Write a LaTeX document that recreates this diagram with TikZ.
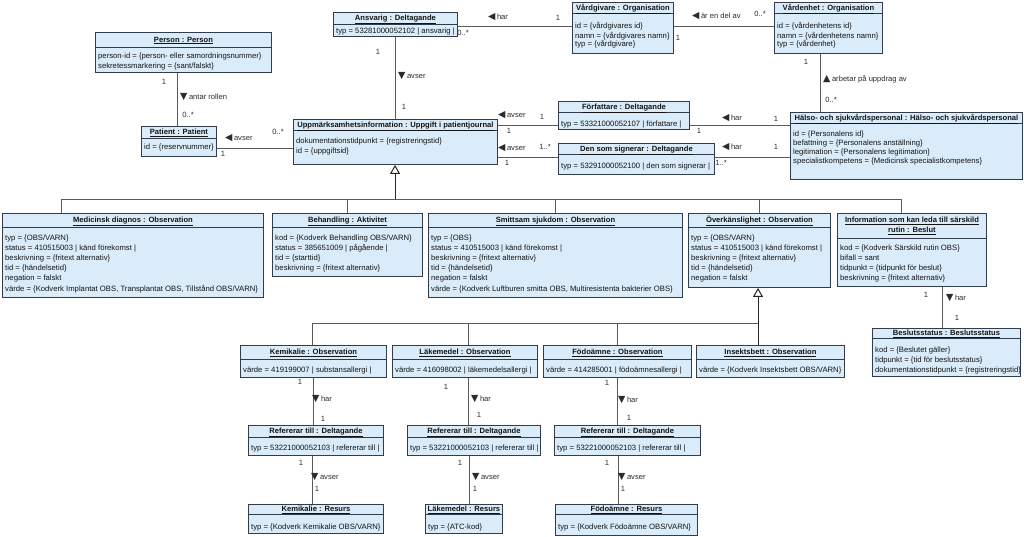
\documentclass[tikz,border=0pt]{standalone}
\usepackage{fontspec}
\setmainfont{Liberation Sans}
\newfontfamily\symfont{DejaVu Sans}
\usetikzlibrary{calc,arrows.meta}
\definecolor{boxfill}{RGB}{218,236,250}
\definecolor{boxdraw}{RGB}{50,60,75}
\definecolor{linec}{RGB}{90,90,90}
\definecolor{txt}{RGB}{20,20,20}
\newcommand{\arrL}{{\symfont\fontsize{9.5}{9}\selectfont ◀}\hspace{1.5pt}}
\newcommand{\arrD}{{\symfont\fontsize{9.5}{9}\selectfont ▼}\hspace{1.5pt}}
\newcommand{\arrU}{{\symfont\fontsize{9.5}{9}\selectfont ▲}\hspace{1.5pt}}
\def\bodyls{10}
\def\bodyoff{10}
\newcommand{\umlbox}[8]{%
 \node[box, minimum width=#4pt, minimum height=#5pt, anchor=north west] (#1) at (#2,#3) {};
 \draw[boxline] ($(#1.north west)+(0,#6)$) -- ($(#1.north east)+(0,#6)$);
 \node[titletext, anchor=base] (#1-t) at ($(#1.north)+(0,{#6/2+2.6})$) {\underline{#7}};
 \node[bodytext, font=\fontsize{7.7}{\bodyls}\selectfont, anchor=north west] (#1-b) at ($(#1.north west)+(3,{#6+\bodyoff+2.8-0.7*\bodyls})$) {\strut #8};
}
\tikzset{
 box/.style={rectangle, draw=boxdraw, fill=boxfill, line width=0.9pt, inner sep=0pt},
 boxline/.style={draw=boxdraw, line width=0.9pt},
 titletext/.style={font=\fontsize{7.6}{10.5}\selectfont\bfseries, text=txt, inner sep=0pt},
 bodytext/.style={text=txt, inner sep=0pt, align=left},
 lbl/.style={font=\fontsize{7.6}{9}\selectfont, text=txt!90!white, inner sep=0pt},
 conn/.style={draw=linec, line width=0.9pt},
 genline/.style={draw=black!85, line width=1pt, -{Triangle[open, length=9pt, width=10pt, line width=1pt]}},
}
\begin{document}
\begin{tikzpicture}[x=1pt, y=-1pt]
\useasboundingbox[fill=white] (0,0) rectangle (1024,536);

% ---------- boxes ----------
\def\bodyls{10.5}\def\bodyoff{8}
\umlbox{person}{95}{32}{176}{40}{15}{Person : Person}{person-id = \{person- eller samordningsnummer\}\\sekretessmarkering = \{sant/falskt\}}
\def\bodyls{10}\def\bodyoff{8}
\umlbox{patient}{141}{126}{75}{30}{12}{Patient : Patient}{id = \{reservnummer\}}
\def\bodyoff{6}
\umlbox{ansvarig}{333}{12}{124}{24}{12}{Ansvarig : Deltagande}{typ = 53281000052102 | ansvarig |}
\def\bodyls{8.2}\def\bodyoff{12}
\umlbox{vardgivare}{572}{2}{101}{51}{11}{Vårdgivare : Organisation}{id = \{vårdgivares id\}\\namn = \{vårdgivares namn\}\\typ = \{vårdgivare\}}
\umlbox{vardenhet}{774}{2}{108}{51}{11}{Vårdenhet : Organisation}{id = \{vårdenhetens id\}\\namn = \{vårdenhetens namn\}\\typ = \{vårdenhet\}}
\def\bodyls{10.5}\def\bodyoff{10}
\umlbox{uppm}{293}{119}{204}{45}{11}{Uppmärksamhetsinformation : Uppgift i patientjournal}{dokumentationstidpunkt = \{registreringstid\}\\id = \{uppgiftsid\}}
\def\bodyls{10}\def\bodyoff{11}
\umlbox{forf}{558}{101}{131}{28}{11}{Författare : Deltagande}{typ = 53321000052107 | författare |}
\umlbox{signerar}{558}{143}{156}{31}{11}{Den som signerar : Deltagande}{typ = 53291000052100 | den som signerar |}
\def\bodyls{9.2}\def\bodyoff{10}
\umlbox{halso}{790}{112}{232}{67}{11}{Hälso- och sjukvårdspersonal : Hälso- och sjukvårdspersonal}{id = \{Personalens id\}\\befattning = \{Personalens anställning\}\\legitimation = \{Personalens legitimation\}\\specialistkompetens = \{Medicinsk specialistkompetens\}}
\def\bodyls{10.2}\def\bodyoff{10}
\umlbox{medicinsk}{2}{213}{261}{84}{14}{Medicinsk diagnos : Observation}{typ = \{OBS/VARN\}\\status = 410515003 | känd förekomst |\\beskrivning = \{fritext alternativ\}\\tid = \{händelsetid\}\\negation = falskt\\värde = \{Kodverk Implantat OBS, Transplantat OBS, Tillstånd OBS/VARN\}}
\umlbox{behandling}{272}{213}{150}{63}{14}{Behandling : Aktivitet}{kod = \{Kodverk Behandling OBS/VARN\}\\status = 385651009 | pågående |\\tid = \{starttid\}\\beskrivning = \{fritext alternativ\}}
\umlbox{smittsam}{428}{213}{254}{84}{14}{Smittsam sjukdom : Observation}{typ = \{OBS\}\\status = 410515003 | känd förekomst |\\beskrivning = \{fritext alternativ\}\\tid = \{händelsetid\}\\negation = falskt\\värde = \{Kodverk Luftburen smitta OBS, Multiresistenta bakterier OBS\}}
\umlbox{overk}{688}{213}{142}{74}{14}{Överkänslighet : Observation}{typ = \{OBS/VARN\}\\status = 410515003 | känd förekomst |\\beskrivning = \{fritext alternativ\}\\tid = \{händelsetid\}\\negation = falskt}
% information box (two-line title)
\node[box, minimum width=149pt, minimum height=73pt, anchor=north west] (info) at (837,213) {};
\draw[boxline] ($(info.north west)+(0,25)$) -- ($(info.north east)+(0,25)$);
\node[titletext, align=center] (info-t) at ($(info.north)+(0,12.8)$) {\underline{Information som kan leda till särskild}\\\underline{rutin : Beslut}};
\node[bodytext, font=\fontsize{7.7}{10}\selectfont, anchor=north west] (info-b) at ($(info.north west)+(3,{25+9+2.8-7})$) {\strut kod = \{Kodverk Särskild rutin OBS\}\\bifall = sant\\tidpunkt = \{tidpunkt för beslut\}\\beskrivning = \{fritext alternativ\}};
\def\bodyls{10}\def\bodyoff{11}
\umlbox{beslut}{872}{328}{148}{48}{10}{Beslutsstatus : Beslutsstatus}{kod = \{Beslutet gäller\}\\tidpunkt = \{tid för beslutsstatus\}\\dokumentationstidpunkt = \{registreringstid\}}
\def\bodyoff{10}
\umlbox{kemobs}{240}{345}{146}{32}{14}{Kemikalie : Observation}{värde = 419199007 | substansallergi |}
\umlbox{lakobs}{392}{345}{145}{32}{14}{Läkemedel : Observation}{värde = 416098002 | läkemedelsallergi |}
\umlbox{fodobs}{543}{345}{148}{32}{14}{Födoämne : Observation}{värde = 414285001 | födoämnesallergi |}
\umlbox{insobs}{696}{345}{148}{32}{14}{Insektsbett : Observation}{värde = \{Kodverk Insektsbett OBS/VARN\}}
\def\bodyoff{10.5}
\umlbox{refkem}{248}{425}{135}{30}{12}{Refererar till : Deltagande}{typ = 53221000052103 | refererar till |}
\umlbox{reflak}{407}{425}{133}{30}{12}{Refererar till : Deltagande}{typ = 53221000052103 | refererar till |}
\umlbox{reffod}{554}{425}{146}{30}{12}{Refererar till : Deltagande}{typ = 53221000052103 | refererar till |}
\def\bodyoff{12}
\umlbox{reskem}{248}{504}{135}{29}{10}{Kemikalie : Resurs}{typ = \{Kodverk Kemikalie OBS/VARN\}}
\umlbox{reslak}{425}{504}{77}{29}{10}{Läkemedel : Resurs}{typ = \{ATC-kod\}}
\umlbox{resfod}{555}{504}{142}{31}{10}{Födoämne : Resurs}{typ = \{Kodverk Födoämne OBS/VARN\}}

% ---------- associations ----------
\draw[conn] ([xshift=-2pt]patient.north) -- ([xshift=-2pt]patient.north |- person.south);
\draw[conn] ([yshift=-7pt]patient.east) -- ([yshift=-7pt]patient.east -| uppm.west);
\draw[conn] (ansvarig.south) -- (ansvarig.south |- uppm.north);
\draw[conn] ([yshift=-2pt]ansvarig.east) -- ([yshift=-2pt]ansvarig.east -| vardgivare.west);
\draw[conn] ([yshift=1.5pt]vardgivare.east) -- ([yshift=1.5pt]vardgivare.east -| vardenhet.west);
\draw[conn] ([xshift=-8pt]vardenhet.south) -- ([xshift=-8pt]vardenhet.south |- halso.north);
\draw[conn] ([yshift=-10pt]forf.west) -- ([yshift=-10pt]forf.west -| uppm.east);
\draw[conn] ([yshift=1.5pt]signerar.west) -- ([yshift=1.5pt]signerar.west -| uppm.east);
\draw[conn] ([yshift=-10pt]forf.east) -- ([yshift=-10pt]forf.east -| halso.west);
\draw[conn] ([yshift=1.5pt]signerar.east) -- ([yshift=1.5pt]signerar.east -| halso.west);
\draw[conn] (kemobs.south) -- (kemobs.south |- refkem.north);
\draw[conn] ([xshift=-4pt]refkem.south) -- ([xshift=-4pt]refkem.south |- reskem.north);
\draw[conn] ([xshift=3pt]lakobs.south) -- ([xshift=3pt]lakobs.south |- reflak.north);
\draw[conn] ([xshift=-5pt]reflak.south) -- ([xshift=-5pt]reflak.south |- reslak.north);
\draw[conn] (fodobs.south) -- (fodobs.south |- reffod.north);
\draw[conn] ([xshift=-9pt]reffod.south) -- ([xshift=-9pt]reffod.south |- resfod.north);
\draw[conn] ([xshift=-4pt]beslut.north) -- ([xshift=-4pt]beslut.north |- info.south);

% ---------- generalizations ----------
\coordinate (g1) at (395,199);
\coordinate (g1L) at (61,199);
\coordinate (g1R) at (901,199);
\draw[conn] (medicinsk.north -| g1L) -- (g1L) -- (g1R) -- (g1R |- info.north);
\draw[conn] (behandling.north) -- (behandling.north |- g1);
\draw[conn] (smittsam.north) -- (smittsam.north |- g1);
\draw[conn] (overk.north) -- (overk.north |- g1);
\draw[genline] (g1) -- (g1 |- uppm.south);
\coordinate (g2) at (758,323);
\coordinate (g2L) at (312,323);
\draw[conn] (kemobs.north -| g2L) -- (g2L) -- (g2);
\draw[conn] ([xshift=3pt]lakobs.north) -- ([xshift=3pt]lakobs.north |- g2);
\draw[conn] (fodobs.north) -- (fodobs.north |- g2);
\draw[genline] (insobs.north -| g2) -- (g2 |- overk.south);

% ---------- labels ----------
\node[lbl] (l1) at (164,82) {1};
\node[lbl, anchor=west] (l2) at (180,97) {\arrD antar rollen};
\node[lbl] (l3) at (188,115) {0..*};
\node[lbl, anchor=west] (l4) at (225,138) {\arrL avser};
\node[lbl] (l5) at (278,132) {0..*};
\node[lbl] (l6) at (223,154) {1};
\node[lbl] (l7) at (378,52) {1};
\node[lbl, anchor=west] (l8) at (398,76) {\arrD avser};
\node[lbl] (l9) at (404,107) {1};
\node[lbl, anchor=west] (l10) at (488,17) {\arrL har};
\node[lbl] (l11) at (558,18) {1};
\node[lbl] (l12) at (463,33) {0..*};
\node[lbl, anchor=west] (l13) at (692,16) {\arrL är en del av};
\node[lbl] (l14) at (760,14) {0..*};
\node[lbl] (l15) at (678,38) {1};
\node[lbl] (l16) at (806,62) {1};
\node[lbl, anchor=west] (l17) at (823,79) {\arrU arbetar på uppdrag av};
\node[lbl] (l18) at (831,100) {0..*};
\node[lbl, anchor=west] (l19) at (498,115) {\arrL avser};
\node[lbl] (l20) at (542,117) {1};
\node[lbl] (l21) at (509,131) {1};
\node[lbl, anchor=west] (l22) at (498,148) {\arrL avser};
\node[lbl] (l23) at (545,147) {1..*};
\node[lbl] (l24) at (507,163) {1};
\node[lbl, anchor=west] (l25) at (722,118) {\arrL har};
\node[lbl] (l26) at (776,119) {1};
\node[lbl] (l27) at (699,131) {1};
\node[lbl, anchor=west] (l28) at (722,147) {\arrL har};
\node[lbl] (l29) at (776,147) {1};
\node[lbl] (l30) at (721,163) {1..*};
\node[lbl] (l31) at (300,382) {1};
\node[lbl, anchor=west] (l32) at (312,399) {\arrD har};
\node[lbl] (l33) at (323,419) {1};
\node[lbl] (l34) at (301,463) {1};
\node[lbl, anchor=west] (l35) at (311,477) {\arrD avser};
\node[lbl] (l36) at (317,489) {1};
\node[lbl] (l37) at (446,387) {1};
\node[lbl, anchor=west] (l38) at (471,399) {\arrD har};
\node[lbl] (l39) at (479,415) {1};
\node[lbl] (l40) at (460,463) {1};
\node[lbl, anchor=west] (l41) at (472,477) {\arrD avser};
\node[lbl] (l42) at (475,489) {1};
\node[lbl] (l43) at (607,383) {1};
\node[lbl, anchor=west] (l44) at (618,400) {\arrD har};
\node[lbl] (l45) at (629,418) {1};
\node[lbl] (l46) at (607,463) {1};
\node[lbl, anchor=west] (l47) at (618,477) {\arrD avser};
\node[lbl] (l48) at (623,489) {1};
\node[lbl] (l49) at (926,295) {1};
\node[lbl, anchor=west] (l50) at (946,298) {\arrD har};
\node[lbl] (l51) at (957,318) {1};
\end{tikzpicture}
\end{document}
